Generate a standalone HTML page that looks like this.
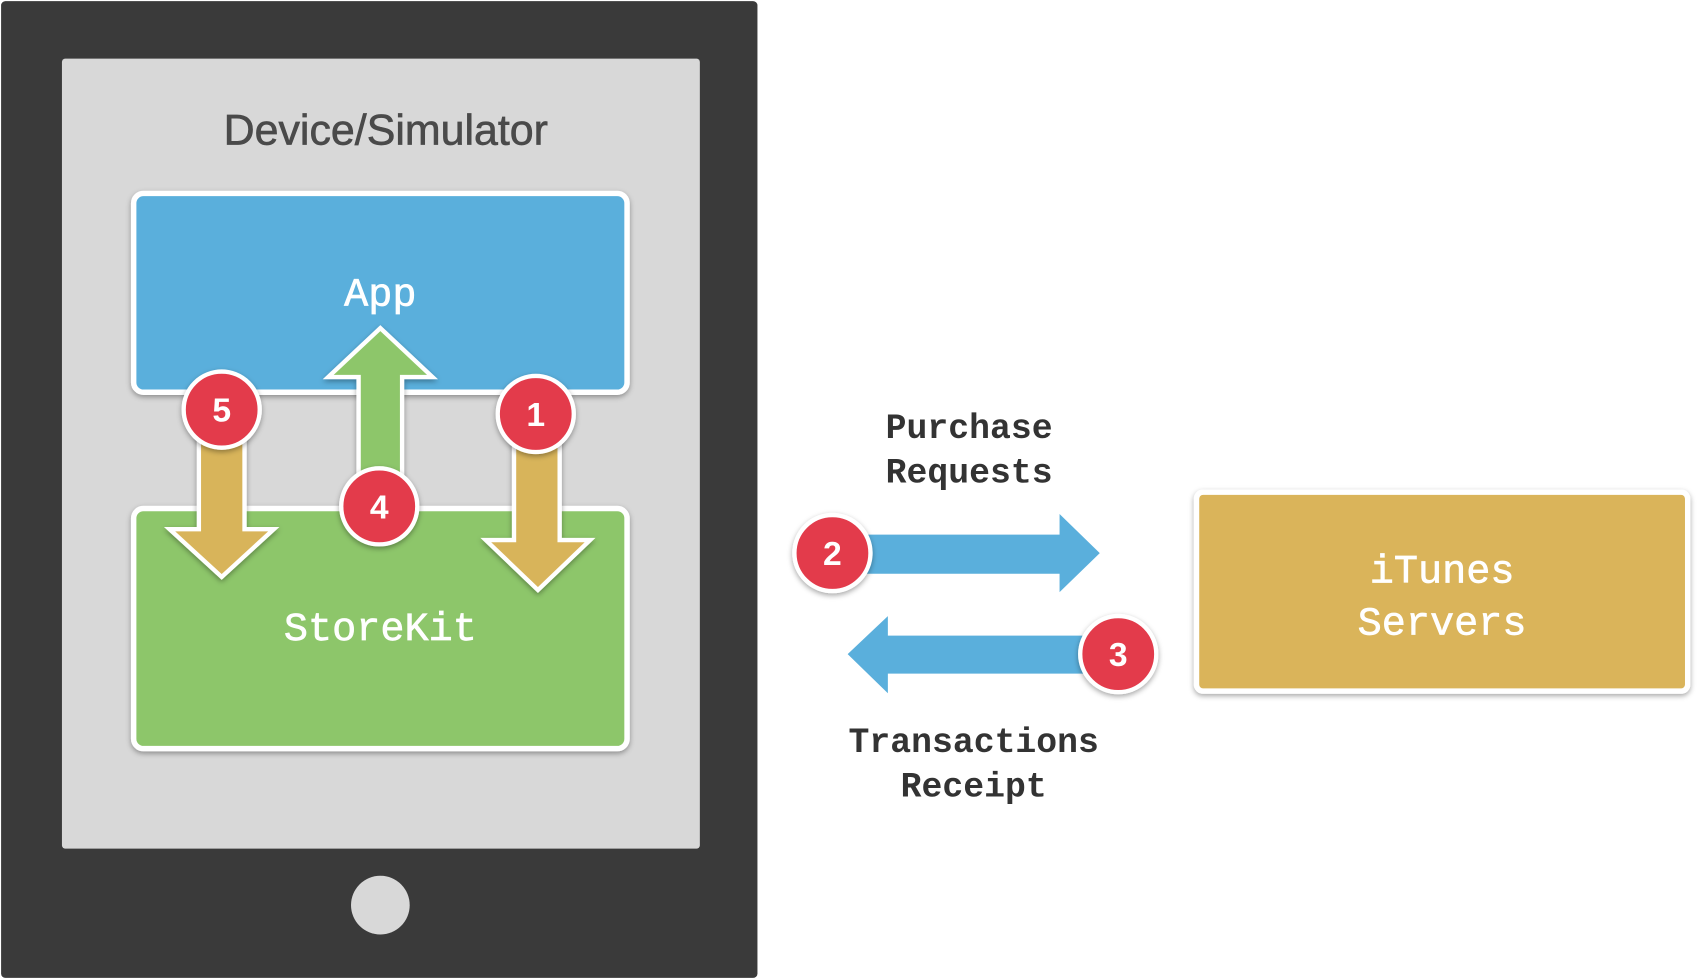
<!DOCTYPE html>
<html><head><meta charset="utf-8"><style>html,body{margin:0;padding:0;background:#fff}svg{display:block}</style></head>
<body>
<svg width="1704" height="979" viewBox="0 0 1568 901" preserveAspectRatio="none" xmlns="http://www.w3.org/2000/svg">
<defs>
<filter id="sh" x="-10%" y="-10%" width="120%" height="130%"><feDropShadow dx="0" dy="2" stdDeviation="2.5" flood-color="#000" flood-opacity="0.35"/></filter>
</defs>
<rect x="1" y="1" width="696" height="899" rx="4" fill="#3a3a3a"/>
<rect x="57" y="54" width="587" height="727" rx="3" fill="#d8d8d8"/>
<text x="355" y="133" text-anchor="middle" font-family="Liberation Sans, sans-serif" font-size="39.5" fill="#4a4a4a" stroke="#4a4a4a" stroke-width="0.6">Device/Simulator</text>
<circle cx="350" cy="833" r="27" fill="#d8d8d8"/>

<rect x="123" y="178" width="454" height="183" rx="9" fill="#5aafdc" stroke="#fff" stroke-width="5" filter="url(#sh)"/>
<text x="350" y="281" text-anchor="middle" font-family="Liberation Mono, monospace" font-size="37" fill="#fff" stroke="#fff" stroke-width="0.6">App</text>
<rect x="123" y="468" width="454" height="221" rx="9" fill="#8dc66a" stroke="#fff" stroke-width="5" filter="url(#sh)"/>
<text x="350" y="589" text-anchor="middle" font-family="Liberation Mono, monospace" font-size="37" fill="#fff" stroke="#fff" stroke-width="0.6">StoreKit</text>

<polygon points="330,470 330,347 302,347 350,302 398,347 370,347 370,470" fill="#8dc66a" stroke="#fff" stroke-width="4" filter="url(#sh)"/>
<polygon points="183,400 225,400 225,487 252,487 204,531 156,487 183,487" fill="#d8b45a" stroke="#fff" stroke-width="4" filter="url(#sh)"/>
<polygon points="473,400 515,400 515,497 543,497 495,543 447,497 473,497" fill="#d8b45a" stroke="#fff" stroke-width="4" filter="url(#sh)"/>

<polygon points="790,492 975,492 975,473 1012,509 975,545 975,528 790,528" fill="#5aafdc"/>
<polygon points="780,602 817,567 817,585 1000,585 1000,620 817,620 817,638" fill="#5aafdc"/>

<g font-family="Liberation Mono, monospace" font-size="32" font-weight="bold" fill="#333">
<text x="815" y="403">Purchase</text>
<text x="815" y="444">Requests</text>
<text x="896" y="692" text-anchor="middle">Transactions</text>
<text x="896" y="733" text-anchor="middle">Receipt</text>
</g>

<rect x="1101" y="453" width="452" height="183" rx="6" fill="#dab45a" stroke="#fff" stroke-width="5" filter="url(#sh)"/>
<g font-family="Liberation Mono, monospace" font-size="37" fill="#fff" stroke="#fff" stroke-width="0.6" text-anchor="middle">
<text x="1327" y="536">iTunes</text>
<text x="1327" y="584">Servers</text>
</g>

<g stroke="#fff" stroke-width="4" fill="#e33a4c" filter="url(#sh)">
<circle cx="204" cy="377" r="35"/>
<circle cx="493" cy="381" r="35"/>
<circle cx="349" cy="466" r="35"/>
<circle cx="766" cy="509" r="35"/>
<circle cx="1029" cy="602" r="35"/>
</g>
<g font-family="Liberation Sans, sans-serif" font-size="31" font-weight="bold" fill="#fff" text-anchor="middle">
<text x="204" y="388">5</text>
<text x="493" y="392">1</text>
<text x="349" y="477">4</text>
<text x="766" y="520">2</text>
<text x="1029" y="613">3</text>
</g>
</svg>
</body></html>
